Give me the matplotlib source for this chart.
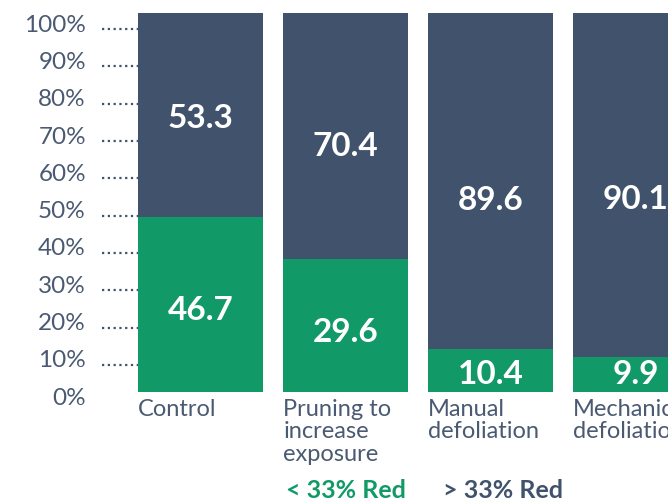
import matplotlib.pyplot as plt

# Share of clusters by treatment (%)
categories = ["Control", "Pruning to\nincrease\nexposure", "Manual\ndefoliation", "Mechanical\ndefoliation"]
low_red = [46.2, 35.0, 11.2, 9.2]          # < 33% Red, bar heights as drawn
low_labels = ["46.7", "29.6", "10.4", "9.9"]
high_labels = ["53.3", "70.4", "89.6", "90.1"]
yticks = [0, 10, 20, 30, 40, 50, 60, 70, 80, 90, 100]

# small vertical nudges (pixels) of the value labels, as placed on the slide
low_nudge = [-6, -7, -4, 0]
high_nudge = [-4, -10, -19, -15]

green = "#119968"
navy = "#40526C"
text_col = "#4A5A72"

plt.rcParams['font.family'] = ['Lato', 'DejaVu Sans']

fig = plt.figure(figsize=(6.68, 5.04), dpi=100)
ax = fig.add_axes([102 / 668, 112.5 / 504, 566 / 668, 378.5 / 504])

x = list(range(len(categories)))
high_red = [100 - v for v in low_red]
width = 0.86
ax.bar(x, low_red, width=width, color=green, zorder=3)
ax.bar(x, high_red, width=width, bottom=low_red, color=navy, zorder=3)

ax.set_xlim(-0.679, 3.224)
ax.set_ylim(0, 100)
ax.set_xticks([])
ax.set_yticks([])
for s in ax.spines.values():
    s.set_visible(False)

# the % scale sits slightly off the bar scale, as in the original slide
for t in yticks:
    base = t * 0.986 - 3.5
    ax.text(-0.79, base, f"{t}%", ha='right', va='baseline', color=text_col,
            fontsize=17.5, clip_on=False)
    if t > 0:
        ax.plot([-0.679, -width / 2], [base + 0.65, base + 0.65], color=navy,
                lw=1.6, ls=(0, (1, 1.6)), zorder=2, clip_on=False)

for i in x:
    ax.annotate(low_labels[i], (i, low_red[i] / 2), xytext=(0, low_nudge[i]),
                textcoords='offset pixels', ha='center', va='center',
                color='white', fontsize=24, fontweight='bold', zorder=4)
    ax.annotate(high_labels[i], (i, low_red[i] + high_red[i] / 2),
                xytext=(0, high_nudge[i]), textcoords='offset pixels',
                ha='center', va='center', color='white', fontsize=24,
                fontweight='bold', zorder=4)
    ax.text(i - width / 2, -2, categories[i], ha='left', va='top', color=text_col,
            fontsize=17, linespacing=1.08)

fig.text(286 / 668, 1 - 490 / 504, "< 33% Red", color=green, fontsize=18,
         fontweight='bold', ha='left', va='center')
fig.text(443 / 668, 1 - 490 / 504, "> 33% Red", color=navy, fontsize=18,
         fontweight='bold', ha='left', va='center')

fig.savefig("out.png", dpi=100)
